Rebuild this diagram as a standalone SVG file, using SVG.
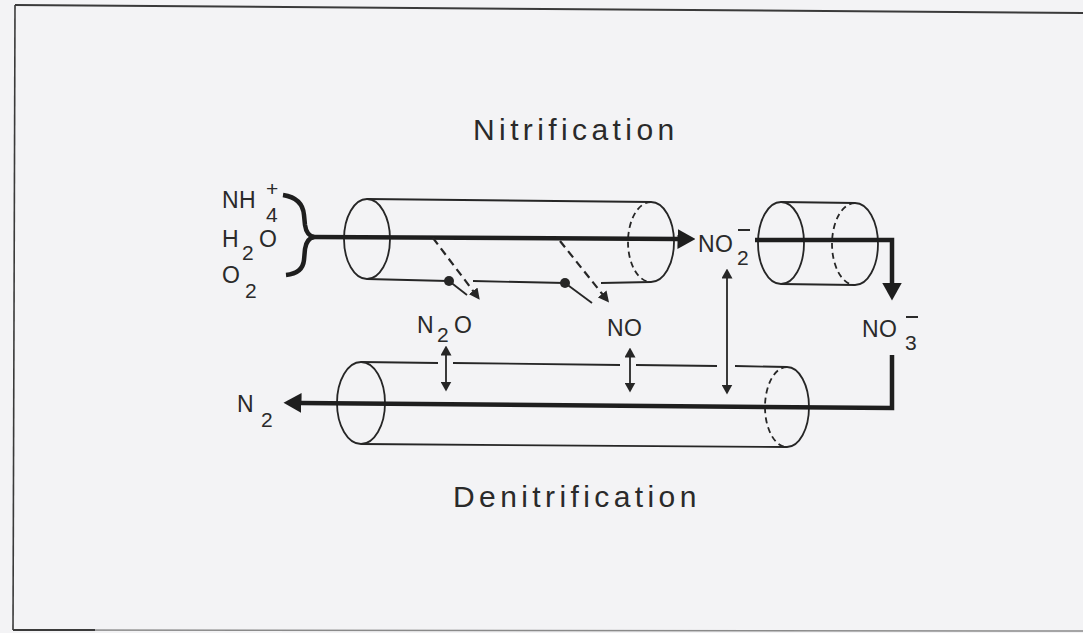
<svg xmlns="http://www.w3.org/2000/svg" width="1083" height="633" viewBox="0 0 1083 633">
  <style>
    .thin { stroke: #262626; fill: none; stroke-width: 1.8; }
    .dash { stroke: #262626; fill: none; stroke-width: 1.8; stroke-dasharray: 6 4; }
    .dasharrow { stroke: #262626; fill: none; stroke-width: 2.2; stroke-dasharray: 8 5; }
    .thick { stroke: #1e1e1e; fill: none; stroke-width: 4.5; stroke-linejoin: miter; }
    .lbl { font-family: "Liberation Sans", Arial, sans-serif; fill: #2a2a2a; }
    .big { font-size: 30px; letter-spacing: 4.4px; }
    .chem { font-size: 23px; letter-spacing: 0.5px; }
    .sub { font-size: 21px; }
  </style>
  <defs>
    <marker id="bigHead" markerUnits="userSpaceOnUse" viewBox="0 0 18 20" markerWidth="18" markerHeight="20" refX="0.5" refY="10" orient="auto">
      <path d="M0,0 L18,10 L0,20 Z" fill="#1e1e1e"/>
    </marker>
    <marker id="smallHead" markerUnits="userSpaceOnUse" viewBox="0 0 10 11" markerWidth="10" markerHeight="11" refX="0.5" refY="5.5" orient="auto-start-reverse">
      <path d="M0,0 L10,5.5 L0,11 Z" fill="#262626"/>
    </marker>
    <marker id="dashHead" markerUnits="userSpaceOnUse" viewBox="0 0 11 11" markerWidth="11" markerHeight="11" refX="0.5" refY="5.5" orient="auto">
      <path d="M0,0 L11,5.5 L0,11 Z" fill="#262626"/>
    </marker>
  </defs>

  <rect x="0" y="0" width="1083" height="633" fill="#f3f3f5"/>

  <g id="frame">
    <line x1="15" y1="5" x2="1083" y2="13" stroke="#3a3a3a" stroke-width="2"/>
    <line x1="15" y1="5" x2="13" y2="630" stroke="#3a3a3a" stroke-width="1.6"/>
    <line x1="13" y1="630" x2="1083" y2="631" stroke="#8a8a8a" stroke-width="1.6"/>
    <line x1="13" y1="630" x2="95" y2="630" stroke="#3a3a3a" stroke-width="2"/>
  </g>

  <g id="nitrification-tube">
    <ellipse class="thin" cx="367" cy="239" rx="23" ry="40"/>
    <line class="thin" x1="367" y1="199" x2="651" y2="202"/>
    <line class="thin" x1="367" y1="279" x2="448" y2="281"/>
    <line class="thin" x1="473" y1="281" x2="565" y2="283"/>
    <line class="thin" x1="601" y1="283" x2="651" y2="282"/>
    <path class="thin" d="M651,202 A23,40 0 0 1 651,282"/>
    <path class="dash" d="M651,202 A23,40 0 0 0 651,282"/>
    <circle cx="449" cy="281" r="5" fill="#262626"/>
    <line class="thin" x1="449" y1="281" x2="467" y2="295"/>
    <circle cx="565" cy="283" r="5" fill="#262626"/>
    <line class="thin" x1="565" y1="283" x2="592" y2="303"/>
  </g>

  <g id="nitrate-tube">
    <ellipse class="thin" cx="781" cy="243" rx="23" ry="41"/>
    <line class="thin" x1="781" y1="202" x2="855" y2="203"/>
    <line class="thin" x1="781" y1="284" x2="855" y2="285"/>
    <path class="thin" d="M855,203 A23,41 0 0 1 855,285"/>
    <path class="dash" d="M855,203 A23,41 0 0 0 855,285"/>
  </g>

  <g id="denitrification-tube">
    <ellipse class="thin" cx="361" cy="403" rx="24" ry="41"/>
    <line class="thin" x1="361" y1="362" x2="438" y2="363"/>
    <line class="thin" x1="453" y1="363" x2="620" y2="365"/>
    <line class="thin" x1="636" y1="365" x2="717" y2="366"/>
    <line class="thin" x1="735" y1="366" x2="787" y2="367"/>
    <line class="thin" x1="361" y1="444" x2="787" y2="447"/>
    <path class="thin" d="M787,367 A22,40 0 0 1 787,447"/>
    <path class="dash" d="M787,367 A22,40 0 0 0 787,447"/>
  </g>

  <g id="connectors">
    <path class="thick" d="M283,195 C296,197 303,203 304,215 L305,225 C306,232 309,236 314,237 C309,238 306,242 305,249 L304,260 C303,270 296,274 286,275" stroke-width="4"/>
    <line class="thick" x1="312" y1="237" x2="678" y2="239" marker-end="url(#bigHead)"/>
    <polyline class="thick" points="755,240 892,240 892,283" marker-end="url(#bigHead)"/>
    <polyline class="thick" points="892,355 892,408 301,403" marker-end="url(#bigHead)"/>
    <line class="dasharrow" x1="433" y1="238" x2="473.4" y2="291.3" marker-end="url(#dashHead)"/>
    <line class="dasharrow" x1="560" y1="241" x2="602.5" y2="294.3" marker-end="url(#dashHead)"/>
    <line class="thin" x1="446" y1="355" x2="446" y2="382" marker-start="url(#smallHead)" marker-end="url(#smallHead)"/>
    <line class="thin" x1="630" y1="357" x2="630" y2="383" marker-start="url(#smallHead)" marker-end="url(#smallHead)"/>
    <line class="thin" x1="727" y1="278" x2="727" y2="385" marker-start="url(#smallHead)" marker-end="url(#smallHead)"/>
  </g>

  <g id="label-nitrification"><text class="lbl big" x="473" y="140">Nitrification</text></g>
  <g id="label-denitrification"><text class="lbl big" x="453" y="507">Denitrification</text></g>

  <g id="inputs">
    <text class="lbl chem" x="222" y="208">NH</text>
    <text class="lbl sub" x="266" y="222">4</text>
    <text class="lbl sub" x="266" y="196">+</text>
    <text class="lbl chem" x="222" y="247">H</text>
    <text class="lbl sub" x="242" y="260">2</text>
    <text class="lbl chem" x="259" y="247">O</text>
    <text class="lbl chem" x="222" y="283">O</text>
    <text class="lbl sub" x="245" y="298">2</text>
  </g>

  <g id="nitrite">
    <text class="lbl chem" x="698" y="252">NO</text>
    <text class="lbl sub" x="737" y="265">2</text>
    <line x1="738" y1="230" x2="750" y2="230" stroke="#2a2a2a" stroke-width="2"/>
  </g>

  <g id="nitrate">
    <text class="lbl chem" x="862" y="337">NO</text>
    <text class="lbl sub" x="905" y="350">3</text>
    <line x1="906" y1="317" x2="918" y2="317" stroke="#2a2a2a" stroke-width="2"/>
  </g>

  <g id="nitrous-oxide">
    <text class="lbl chem" x="417" y="333">N</text>
    <text class="lbl sub" x="437" y="342">2</text>
    <text class="lbl chem" x="454" y="333">O</text>
  </g>

  <g id="nitric-oxide">
    <text class="lbl chem" x="607" y="336">NO</text>
  </g>

  <g id="dinitrogen">
    <text class="lbl chem" x="237" y="412">N</text>
    <text class="lbl sub" x="261" y="427">2</text>
  </g>
</svg>
